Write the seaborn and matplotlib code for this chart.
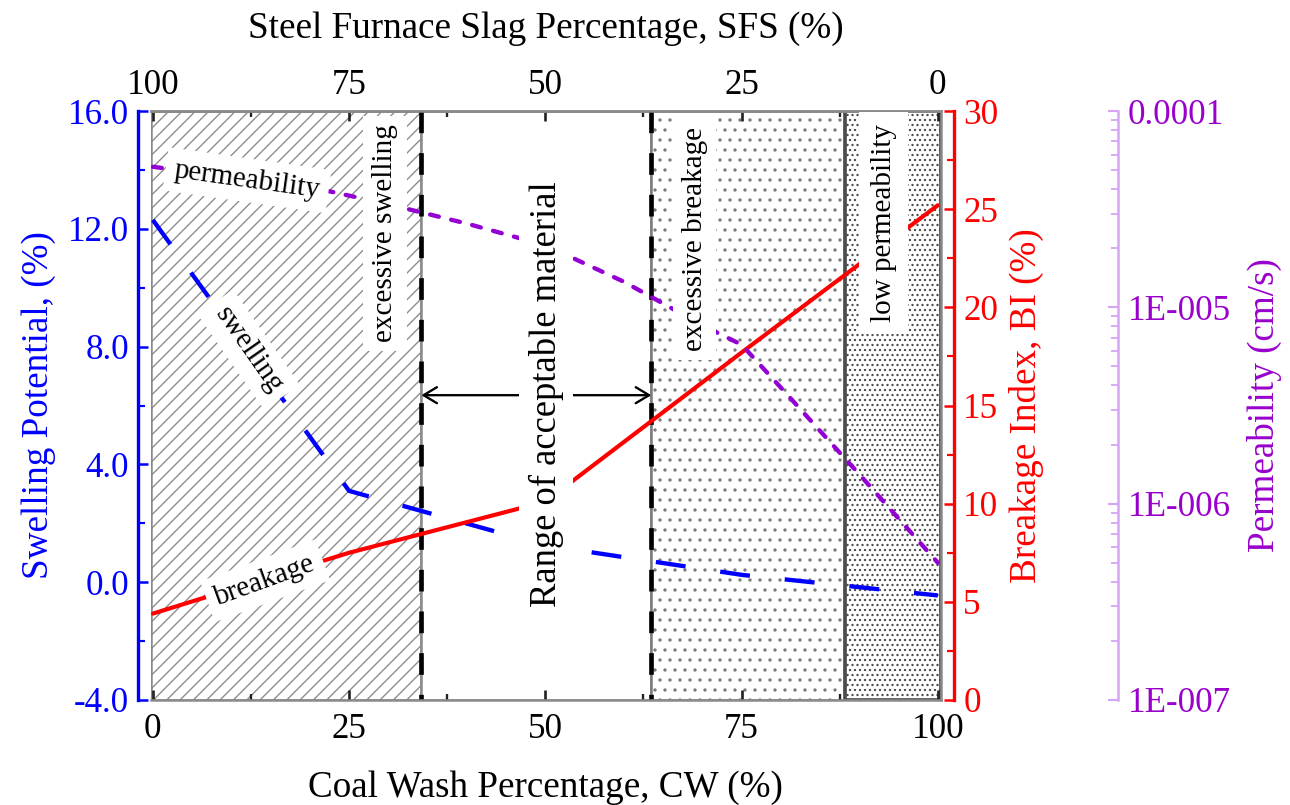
import matplotlib
matplotlib.use("Agg")
import matplotlib.pyplot as plt
import seaborn as sns
from matplotlib.ticker import MultipleLocator, FixedLocator, FixedFormatter, FormatStrFormatter, LogLocator, NullFormatter

# ---- data -----------------------------------------------------------------
# coal wash content of the blends (%)
cw = [0, 25, 50, 75, 100]
swelling = [12.3, 3.1, 1.25, 0.25, -0.45]        # swelling potential (%)
breakage = [4.4, 7.5, 10.1, 17.7, 25.2]          # breakage index BI (%)

cw_perm = [0, 10, 20, 30, 40, 50, 60, 70, 75, 80, 90, 100]
permeability = [5.2e-5, 4.6e-5, 4.1e-5, 3.35e-5, 2.67e-5, 2.07e-5,
                1.35e-5, 8.1e-6, 6.45e-6, 3.9e-6, 1.41e-6, 5.0e-7]   # cm/s

# CW limits of the design zones
swell_limit = 34.2
break_limit = 63.5
perm_limit = 88.2

cw_ticks = [0, 25, 50, 75, 100]
sfs_ticks = [100, 75, 50, 25, 0]
perm_ticks = [1e-7, 1e-6, 1e-5, 1e-4]
perm_tick_labels = ["1E-007", "1E-006", "1E-005", "0.0001"]

# ---- style ----------------------------------------------------------------
sns.set_theme(style="white")
plt.rcParams["font.family"] = ["Liberation Serif", "DejaVu Serif"]
plt.rcParams["lines.scale_dashes"] = False
plt.rcParams["hatch.linewidth"] = 0.8
plt.rcParams["text.color"] = "black"
plt.rcParams["axes.labelcolor"] = "black"
plt.rcParams["xtick.color"] = "black"
plt.rcParams["ytick.color"] = "black"

BLUE = "#0000ff"
RED = "#ff0000"
PURPLE = "#9400d3"
PURPLE_TXT = "#9900cc"
PURPLE_AX = "#d6a6f2"
GREY = "#8a8a8a"

TICK_FS = 21
LABEL_FS = 22.3

DPI = 120
W, H = 1290, 805
px = 72.0 / DPI  # points per pixel

fig = plt.figure(figsize=(W / DPI, H / DPI), dpi=DPI)
L, R, T, B = 150.5, 941, 111, 700
ax = fig.add_axes([L / W, 1 - B / H, (R - L) / W, (B - T) / H])
ax.set_xlim(-0.3, 100.4)
ax.set_ylim(-4, 16)

# ---- design zones ---------------------------------------------------------
x0, x1 = ax.get_xlim()
ax.axvspan(x0, swell_limit, facecolor="white", edgecolor=GREY, hatch="///", lw=1.5, zorder=0)
ax.axvspan(swell_limit, break_limit, facecolor="white", edgecolor=GREY, lw=1.5, zorder=0)
ax.axvspan(break_limit, perm_limit, facecolor="white", edgecolor="#7a7a7a", hatch="..", lw=1.5, zorder=0)
ax.axvspan(perm_limit, x1, facecolor="white", edgecolor="#4a4a4a", hatch="....", lw=2.2, zorder=0)

for xv in (swell_limit, break_limit):
    ax.plot([xv, xv], [16, -4], color="black", lw=2.8, dashes=(13, 12),
            dash_capstyle="butt", zorder=1)

# ---- curves ---------------------------------------------------------------
sns.lineplot(x=cw, y=swelling, ax=ax, color=BLUE, lw=2.6, zorder=3)
ln = ax.lines[-1]
ln.set_dashes([18, 21])
ln.set_dash_capstyle("butt")

ax_bi = ax.twinx()
ax_bi.set_ylim(0, 30)
sns.lineplot(x=cw, y=breakage, ax=ax_bi, color=RED, lw=2.5, zorder=3)

ax_k = ax.twinx()
ax_k.set_yscale("log")
ax_k.set_ylim(1e-7, 1e-4)
sns.lineplot(x=cw_perm, y=permeability, ax=ax_k, color=PURPLE, lw=2.6, zorder=3)
ln = ax_k.lines[-1]
ln.set_dashes([5.4, 7.6])
ln.set_dash_capstyle("round")

for a in (ax, ax_bi, ax_k):
    a.set_xlim(x0, x1)
    a.set_xlabel("")
    a.set_ylabel("")

# ---- main (bottom / left) axes ---------------------------------------------
for side in ("top", "bottom", "right"):
    ax.spines[side].set_color(GREY)
    ax.spines[side].set_linewidth(1.5)
ax.spines["left"].set_position(("outward", 13 * px))
ax.spines["left"].set_color(BLUE)
ax.spines["left"].set_linewidth(2.0)

ax.xaxis.set_major_locator(FixedLocator(cw_ticks))
ax.xaxis.set_minor_locator(MultipleLocator(12.5))
ax.tick_params(axis="x", which="both", direction="in", color="#222222",
               labelcolor="black", labelsize=TICK_FS, pad=8, bottom=True, top=False)
ax.tick_params(axis="x", which="major", length=6, width=1.6)
ax.tick_params(axis="x", which="minor", length=3.5, width=1.4)

ax.yaxis.set_major_locator(MultipleLocator(4))
ax.yaxis.set_minor_locator(MultipleLocator(2))
ax.yaxis.set_major_formatter(FormatStrFormatter("%.1f"))
ax.tick_params(axis="y", which="both", direction="in", colors=BLUE,
               labelsize=TICK_FS, pad=5, left=True, right=False)
ax.tick_params(axis="y", which="major", length=6, width=1.5)
ax.tick_params(axis="y", which="minor", length=4, width=1.3)

ax.set_xlabel("Coal Wash Percentage, CW (%)", fontsize=LABEL_FS, color="black")
ax.xaxis.set_label_coords(0.5, (B - 797) / (B - T))
ax.xaxis.label.set_va("baseline")

ax.set_ylabel("Swelling Potential, (%)", fontsize=LABEL_FS, color=BLUE)
ax.yaxis.set_label_coords((39 - L) / (R - L), 0.5)
ax.yaxis.label.set_va("center")

# top axis: steel furnace slag = 100 - coal wash
sec = ax.secondary_xaxis("top", functions=(lambda v: 100 - v, lambda v: 100 - v))
sec.set_xticks(sfs_ticks)
sec.xaxis.set_minor_locator(MultipleLocator(12.5))
sec.spines["top"].set_color(GREY)
sec.spines["top"].set_linewidth(1.5)
sec.tick_params(axis="x", which="both", direction="in", color="#222222",
                labelcolor="black", labelsize=TICK_FS, pad=5.5)
sec.tick_params(axis="x", which="major", length=6, width=1.6)
sec.tick_params(axis="x", which="minor", length=3.5, width=1.4)
ax.text(0.5, (B - 38) / (B - T), "Steel Furnace Slag Percentage, SFS (%)",
        transform=ax.transAxes, ha="center", va="baseline", fontsize=LABEL_FS)

# ---- breakage index axis ---------------------------------------------------
for side in ("top", "bottom", "left"):
    ax_bi.spines[side].set_visible(False)
ax_bi.spines["right"].set_position(("outward", 13 * px))
ax_bi.spines["right"].set_color(RED)
ax_bi.spines["right"].set_linewidth(2.0)
ax_bi.yaxis.set_major_locator(MultipleLocator(5))
ax_bi.yaxis.set_minor_locator(MultipleLocator(2.5))
ax_bi.tick_params(axis="y", which="both", direction="in", colors=RED,
                  labelsize=TICK_FS, pad=5.5, right=True, left=False)
ax_bi.tick_params(axis="y", which="major", length=6, width=1.5)
ax_bi.tick_params(axis="y", which="minor", length=4, width=1.3)
ax_bi.set_ylabel("Breakage Index, BI (%)", fontsize=LABEL_FS, color=RED)
ax_bi.yaxis.set_label_coords((1026 - L) / (R - L), 0.5)
ax_bi.yaxis.label.set_va("center")

# ---- permeability axis -----------------------------------------------------
for side in ("top", "bottom", "left"):
    ax_k.spines[side].set_visible(False)
ax_k.spines["right"].set_position(("outward", (1118 - R) * px))
ax_k.spines["right"].set_color(PURPLE_AX)
ax_k.spines["right"].set_linewidth(1.5)
ax_k.yaxis.set_major_locator(FixedLocator(perm_ticks))
ax_k.yaxis.set_major_formatter(FixedFormatter(perm_tick_labels))
ax_k.yaxis.set_minor_locator(LogLocator(base=10, subs=range(2, 10)))
ax_k.yaxis.set_minor_formatter(NullFormatter())
ax_k.tick_params(axis="y", which="both", direction="in", color=PURPLE_AX,
                 labelcolor=PURPLE_TXT, labelsize=TICK_FS, pad=6, right=True, left=False)
ax_k.tick_params(axis="y", which="major", length=6, width=1.3)
ax_k.tick_params(axis="y", which="minor", length=4, width=1.1)
ax_k.set_ylabel("Permeability (cm/s)", fontsize=LABEL_FS, color=PURPLE_TXT)
ax_k.yaxis.set_label_coords((1264 - L) / (R - L), 0.5)
ax_k.yaxis.label.set_va("center")

# ---- annotations (drawn above every curve) ---------------------------------
box = dict(boxstyle="square,pad=0.3", facecolor="white", edgecolor="none")
lab = dict(transform=ax.transData, ha="center", va="center", fontsize=17.5,
           bbox=box, zorder=10)
ax_k.text(12.0, 13.65, "permeability", rotation=-8, **lab)
ax_k.text(12.2, 7.9, "swelling", rotation=-55, **lab)
ax_k.text(14.3, 0.05, "breakage", rotation=20, **lab)
ax_k.text(29.6, 11.84, "excessive swelling", rotation=90, **lab)
ax_k.text(69.0, 11.65, "excessive breakage", rotation=90, **lab)
lab_lp = dict(lab)
lab_lp["bbox"] = dict(boxstyle="square,pad=0.4", facecolor="white", edgecolor="none")
ax_k.text(93.1, 12.2, "low permeability", rotation=90, **lab_lp)

ax_k.annotate("", xy=(swell_limit, 6.35), xytext=(break_limit, 6.35),
              xycoords=ax.transData, textcoords=ax.transData,
              arrowprops=dict(arrowstyle="<->,head_length=0.5,head_width=0.3",
                              color="black", lw=1.4, shrinkA=0, shrinkB=0,
                              mutation_scale=16), zorder=9)
ax_k.text(50.1, 6.4, "Range of acceptable material", transform=ax.transData,
          ha="center", va="center", rotation=90, fontsize=22,
          bbox=dict(boxstyle="square,pad=0.25", facecolor="white", edgecolor="none"),
          zorder=11)

fig.savefig("out.png", dpi=DPI)
